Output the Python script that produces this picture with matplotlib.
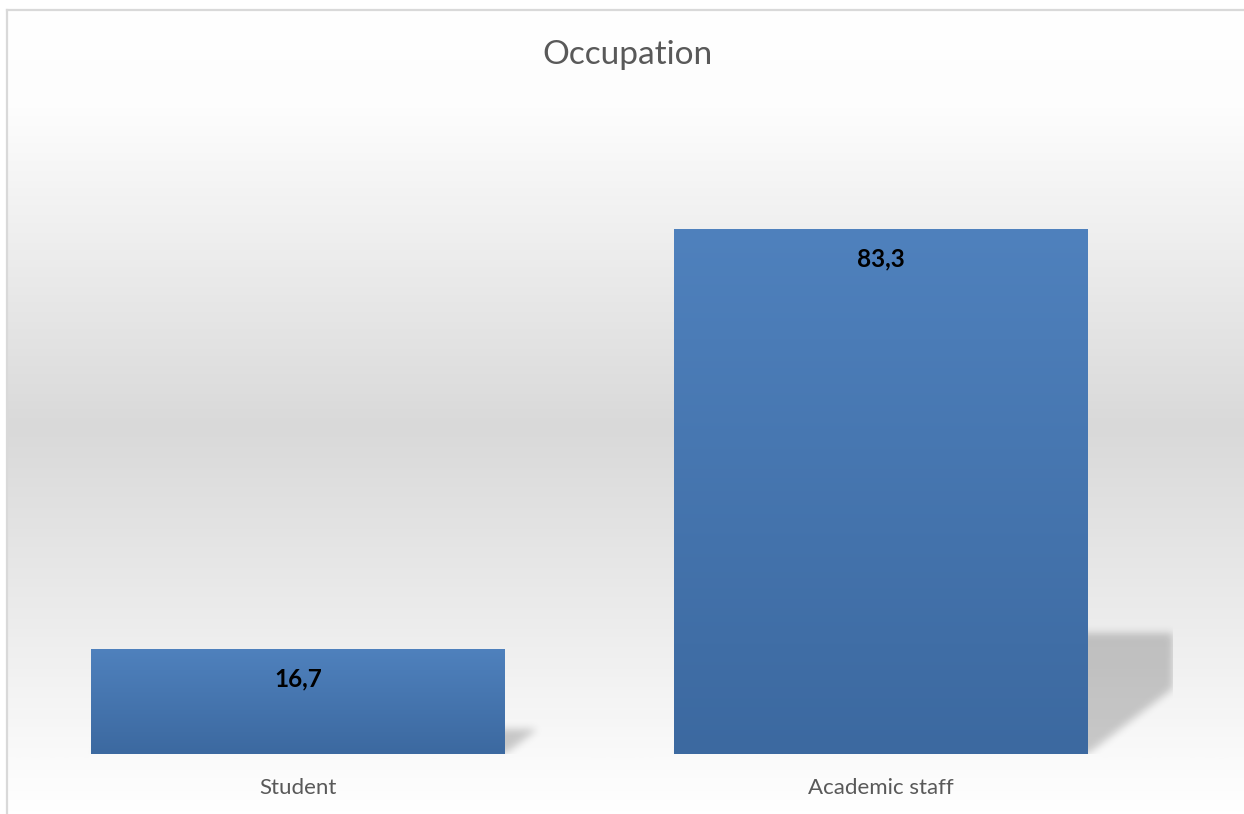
import numpy as np
import matplotlib.pyplot as plt
from matplotlib.colors import LinearSegmentedColormap
from matplotlib.path import Path

plt.rcParams['font.family'] = ['Lato', 'DejaVu Sans']

categories = ['Student', 'Academic staff']
values = [16.7, 83.3]
value_labels = ['16,7', '83,3']

W, H = 1244, 814
fig = plt.figure(figsize=(W / 100, H / 100), dpi=100)

# background panel with the grey band in the middle
bg = fig.add_axes([7 / W, 0, 1 - 7 / W, (H - 10) / H])
bg.set_axis_off()
bg_cmap = LinearSegmentedColormap.from_list(
    'bg', [(0, '#ffffff'), (0.12, '#fdfdfd'), (0.52, '#d9d9d9'), (0.92, '#f9f9f9'), (1, '#ffffff')])
grad = np.linspace(0, 1, 400).reshape(-1, 1)
bg.imshow(grad, aspect='auto', cmap=bg_cmap, extent=[0, 1, 0, 1], origin='upper')
bg.set_xlim(0, 1)
bg.set_ylim(0, 1)
# light frame on the left and top
fig.add_artist(plt.Line2D([7 / W, 7 / W], [0, (H - 10) / H], color='#d9d9d9', lw=1.6))
fig.add_artist(plt.Line2D([7 / W, 1], [(H - 10) / H, (H - 10) / H], color='#d9d9d9', lw=1.6))

# plot area
x0, x1 = 6.5, 1172.5
ybase = 754
ymax = 90
px_per_unit = 6.3
ytop = ybase - ymax * px_per_unit
ax = fig.add_axes([x0 / W, (H - ybase) / H, (x1 - x0) / W, (ybase - ytop) / H])
ax.set_facecolor('none')
for s in ax.spines.values():
    s.set_visible(False)
ax.set_yticks([])
ax.set_xticks(range(len(categories)))
ax.set_xticklabels(categories, fontsize=16, color='#595959')
ax.tick_params(axis='x', length=0, pad=17)

bw = 0.71
bars = ax.bar(range(len(categories)), values, width=bw, color='#4672aa', zorder=3)

# blurred perspective shadow to the right of each bar
nx, ny = int(x1 - x0), int(ybase - ytop)
gx = np.linspace(-0.5, len(categories) - 0.5, nx)
gy = np.linspace(0, ymax, ny)
GX, GY = np.meshgrid(gx, gy)
pts = np.column_stack([GX.ravel(), GY.ravel()])
mask = np.zeros(GX.shape)
xpx = (x1 - x0) / len(categories)
for b in bars:
    h = b.get_height()
    xl, xr = b.get_x(), b.get_x() + b.get_width()
    sh = 0.23 * h
    off = 1.3 * sh * px_per_unit / xpx
    shape = Path([(xl, 0), (xr, 0), (xr + off, sh), (xl + off, sh), (xl, 0)])
    mask = np.maximum(mask, shape.contains_points(pts).reshape(GX.shape).astype(float))
k = np.exp(-0.5 * (np.arange(-12, 13) / 4.0) ** 2)
k /= k.sum()
mask = np.apply_along_axis(lambda r: np.convolve(r, k, mode='same'), 1, mask)
mask = np.apply_along_axis(lambda c: np.convolve(c, k, mode='same'), 0, mask)
shadow = np.zeros((ny, nx, 4))
shadow[..., 3] = mask * 0.2
ax.imshow(shadow, extent=[gx[0], gx[-1], 0, ymax], origin='lower', aspect='auto', zorder=2)

# vertical gradient on the bars
bar_cmap = LinearSegmentedColormap.from_list('bar', ['#4f81bd', '#3c69a0'])
for b in bars:
    ext = [b.get_x(), b.get_x() + b.get_width(), 0, b.get_height()]
    im = ax.imshow(np.linspace(0, 1, 200).reshape(-1, 1), cmap=bar_cmap, aspect='auto',
                   extent=ext, origin='upper', zorder=4)
    im.set_clip_path(b)

for b, lab in zip(bars, value_labels):
    ax.text(b.get_x() + b.get_width() / 2, b.get_height() - 30 / px_per_unit, lab,
            ha='center', va='center', fontsize=17.5, fontweight='bold', color='black', zorder=5)

ax.set_xlim(-0.5, len(categories) - 0.5)
ax.set_ylim(0, ymax)

fig.text(627 / W, 1 - 55 / H, 'Occupation', ha='center', va='center', fontsize=24, color='#595959')

fig.savefig('out.png', dpi=100)
